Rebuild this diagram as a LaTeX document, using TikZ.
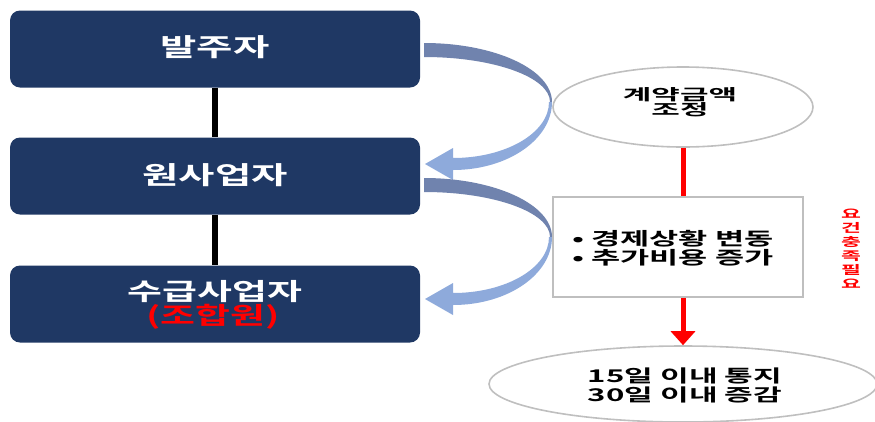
\documentclass[tikz,border=0pt]{standalone}
\usepackage{graphicx}
\usepackage{fontspec}
\setmainfont{Noto Sans CJK KR}[BoldFont={Noto Sans CJK KR Bold}]
\usetikzlibrary{shapes.geometric,arrows.meta}
\definecolor{navy}{HTML}{1F3864}
\definecolor{darkband}{HTML}{7083AE}
\definecolor{lightband}{HTML}{8EAADB}
\definecolor{outline}{HTML}{BFBFBF}
\definecolor{redc}{HTML}{FF0000}
\newcommand\wx[2]{\scalebox{#1}[1]{#2}}
\tikzset{
  mainbox/.style={draw=none,fill=navy,rounded corners=10pt,minimum width=410pt,minimum height=77pt,inner sep=0pt},
  boxtext/.style={text=white,font=\fontsize{25}{25}\selectfont\bfseries,inner sep=0pt},
  oval/.style={ellipse,draw=outline,line width=1.6pt,inner sep=0pt},
  txt/.style={font=\fontsize{17.5}{18}\selectfont\bfseries,inner sep=0pt},
  infobox/.style={draw=outline,line width=1.6pt,minimum width=250pt,minimum height=100pt,inner sep=0pt},
  linkline/.style={line width=6pt,black},
  redline/.style={line width=5pt,redc},
  reqtext/.style={text=redc,font=\fontsize{12}{12}\selectfont\bfseries,inner sep=0pt},
}
\begin{document}
\begin{tikzpicture}[x=1pt,y=-1pt]
\useasboundingbox (0,0) rectangle (875,421);
% boxes
\node[mainbox] (b1) at (215,49) {};
\node[boxtext] (b1t) at (215,47) {\wx{1.58}{발주자}};
\node[mainbox] (b2) at (215,176) {};
\node[boxtext] (b2t) at (215,175) {\wx{1.58}{원사업자}};
\node[mainbox] (b3) at (215,304) {};
\node[boxtext,font=\fontsize{24}{25}\selectfont\bfseries] (b3t) at (215,292) {\wx{1.58}{수급사업자}};
\node[boxtext,text=redc,font=\fontsize{24}{25}\selectfont\bfseries] (b3r) at (213,317) {\wx{1.58}{(조합원)}};
\draw[linkline] (b1.south) -- (b2.north);
\draw[linkline] (b2.south) -- (b3.north);
% curved arrows
\foreach \s in {0,135}{
\begin{scope}[yshift=-\s pt]
\fill[darkband] (424,43) .. controls (494.7,43) and (552,69.4) .. (552,102)
   -- (550,102) .. controls (550,77.2) and (493.6,57) .. (424,57) -- cycle;
\fill[lightband] (552,102) .. controls (552,139.5) and (507.6,170) .. (453,170)
   -- (453,180) -- (425,164) -- (453,148) -- (453,158)
   .. controls (506,158) and (549,132.9) .. (549,102) -- cycle;
\end{scope}}
% right side
\node[oval,minimum width=260pt,minimum height=80pt] (e1) at (683,107) {};
\node[txt,font=\fontsize{15.5}{16}\selectfont\bfseries,anchor=base] (e1a) at (680,100) {\wx{2.0}{계약금액}};
\node[txt,font=\fontsize{15.5}{16}\selectfont\bfseries,anchor=base] (e1b) at (680,115.5) {\wx{2.0}{조정}};
\node[infobox] (r) at (678,247) {};
\node[txt,font=\fontsize{18}{20}\selectfont\bfseries,anchor=west] (ra) at (572,239) {\wx{1.76}{•\ 경제상황 변동}};
\node[txt,font=\fontsize{18}{20}\selectfont\bfseries,anchor=west] (rb) at (572,258) {\wx{1.76}{•\ 추가비용 증가}};
\node[oval,minimum width=388pt,minimum height=76pt] (e2) at (683,384) {};
\node[txt] (e2a) at (685,376) {\wx{1.78}{15일 이내 통지}};
\node[txt] (e2b) at (685,395) {\wx{1.78}{30일 이내 증감}};
\draw[redline] (e1.south) -- (r.north -| e1.south);
\draw[redline,-{Triangle[width=24pt,length=14pt]}] (r.south -| e1.south) -- (e2.north);
\foreach \c [count=\i] in {요,건,충,족,필,요}{
  \node[reqtext] (req\i) at (851,{200+\i*14}) {\wx{1.8}{\c}};
}
\end{tikzpicture}
\end{document}
